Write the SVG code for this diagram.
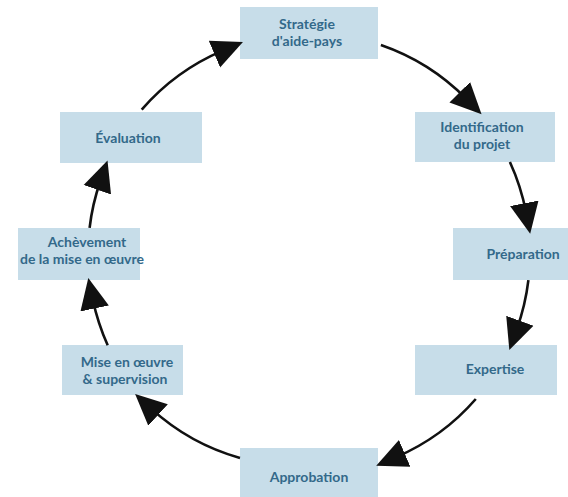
<svg xmlns="http://www.w3.org/2000/svg" width="568" height="497" viewBox="0 0 568 497">
<defs>
<style>
.box{fill:#c7dde9;}
.lbl{font-family:Lato,"Open Sans","Liberation Sans",sans-serif;font-weight:bold;font-size:14px;fill:#33698a;text-anchor:middle;}
.arc{fill:none;stroke:#111;stroke-width:2.6;marker-end:url(#ah);}
</style>
<marker id="ah" markerUnits="userSpaceOnUse" markerWidth="34" markerHeight="34" viewBox="0 -17 34 34" refX="9" refY="0" orient="auto">
<path d="M0,-14.5 L31,0 L0,14.5 Z" fill="#111"/>
</marker>
</defs>
<rect width="568" height="497" fill="#ffffff"/>
<g id="n1"><rect class="box" x="240" y="7" width="138" height="52"/><text class="lbl" x="307" y="28.5">Stratégie</text><text class="lbl" x="307" y="45.5">d'aide-pays</text></g>
<g id="n2"><rect class="box" x="415" y="112" width="140" height="50"/><text class="lbl" x="482" y="131.5">Identification</text><text class="lbl" x="482" y="148.5">du projet</text></g>
<g id="n3"><rect class="box" x="453" y="228" width="115" height="52"/><text class="lbl" x="523" y="259">Préparation</text></g>
<g id="n4"><rect class="box" x="415" y="345" width="142" height="50"/><text class="lbl" x="495" y="374">Expertise</text></g>
<g id="n5"><rect class="box" x="240" y="448" width="138" height="49"/><text class="lbl" x="309" y="482">Approbation</text></g>
<g id="n6"><rect class="box" x="62" y="345" width="121" height="50"/><text class="lbl" x="127" y="367">Mise en œuvre</text><text class="lbl" x="125" y="384">&amp; supervision</text></g>
<g id="n7"><rect class="box" x="18" y="228" width="122" height="52"/><text class="lbl" x="87" y="247">Achèvement</text><text class="lbl" x="82" y="264">de la mise en œuvre</text></g>
<g id="n8"><rect class="box" x="60" y="112" width="142" height="51"/><text class="lbl" x="128" y="143">Évaluation</text></g>
<g id="connectors">
<path class="arc" d="M141.7,109.6 A221,221 0 0 1 222.7,50.6"/>
<path class="arc" d="M380.9,45 A221,221 0 0 1 466.1,98.6"/>
<path class="arc" d="M509.9,162 A221,221 0 0 1 526,212.2"/>
<path class="arc" d="M528.4,280.2 A221,221 0 0 1 516.8,329.2"/>
<path class="arc" d="M475.8,399 A221,221 0 0 1 396.4,457"/>
<path class="arc" d="M240,458 A221,221 0 0 1 151.4,408.9"/>
<path class="arc" d="M107.7,345.3 A221,221 0 0 1 92.8,299.6"/>
<path class="arc" d="M89.6,227.8 A221,221 0 0 1 100.3,181.3"/>
</g>
</svg>
